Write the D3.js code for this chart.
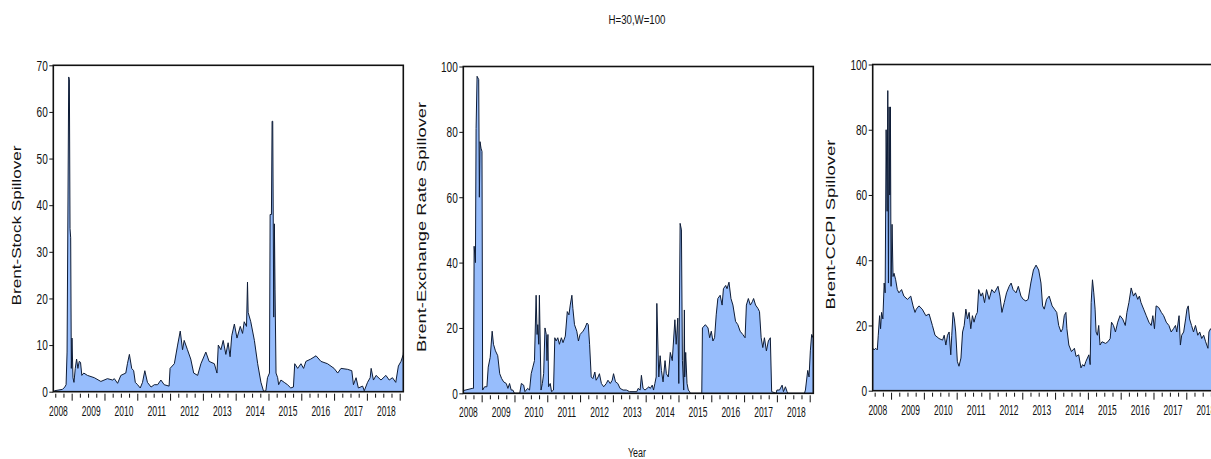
<!DOCTYPE html>
<html>
<head>
<meta charset="utf-8">
<script src="https://cdn.jsdelivr.net/npm/d3@7"></script>
<style>
  html, body { margin: 0; padding: 0; background: #fff; }
  svg { display: block; }
  text { font-family: "Liberation Sans", Arial, sans-serif; fill: #111; }
</style>
</head>
<body>
<script>
// time is decimal year, value is spillover index
const stockSpill = [
  [2007.89,0.2],[2008.14,0.5],[2008.21,1.0],[2008.25,1.5],[2008.28,8.5],[2008.33,67.5],[2008.35,67],[2008.37,35],
  [2008.39,33],[2008.41,5],[2008.43,11.5],[2008.46,3],[2008.49,2],[2008.53,5],[2008.57,7],[2008.61,5],[2008.65,6.5],
  [2008.69,6.3],[2008.73,3.5],[2008.79,4],[2008.90,3.5],[2009.11,3],[2009.31,2.2],[2009.51,2.8],[2009.67,2.5],
  [2009.72,2.8],[2009.82,1.8],[2009.92,3.5],[2010.07,4],[2010.12,6],[2010.18,8],[2010.25,5],[2010.31,4.5],[2010.36,2],
  [2010.43,1.5],[2010.51,0.8],[2010.58,2],[2010.65,4.5],[2010.73,2],[2010.84,1],[2010.94,1.5],[2011.04,1.5],
  [2011.14,2.5],[2011.24,1.5],[2011.39,1.2],[2011.42,5],[2011.55,6],[2011.65,10],[2011.73,13],[2011.80,9],[2011.85,11],
  [2011.95,9],[2012.05,7],[2012.14,4],[2012.26,3.5],[2012.36,6],[2012.51,8.5],[2012.61,6.5],[2012.77,6],[2012.85,4],
  [2012.89,10],[2012.97,9],[2013.04,11],[2013.12,8],[2013.19,10.5],[2013.25,7.5],[2013.30,12],[2013.38,14.5],
  [2013.46,11.5],[2013.56,14],[2013.63,12.5],[2013.68,15],[2013.75,14],[2013.78,23.5],[2013.80,17],[2013.88,15],
  [2013.99,11],[2014.09,6],[2014.19,2],[2014.27,0.1],[2014.34,0.2],[2014.39,3],[2014.45,4],[2014.47,38],[2014.51,38],
  [2014.53,58],[2014.55,58],[2014.58,16],[2014.60,36],[2014.62,22],[2014.65,4],[2014.70,3],[2014.73,1.5],[2014.80,2.5],
  [2014.90,2],[2015.00,1.5],[2015.10,0.8],[2015.18,1],[2015.22,6],[2015.31,5],[2015.41,6],[2015.49,5],[2015.56,6.5],
  [2015.71,7],[2015.87,7.7],[2016.02,6.5],[2016.22,6],[2016.42,5],[2016.53,4],[2016.63,5],[2016.83,4.8],[2016.96,4.5],
  [2017.01,1.5],[2017.09,3],[2017.16,0.8],[2017.29,1.2],[2017.34,0.2],[2017.44,2],[2017.52,3],[2017.55,5],[2017.62,2.5],
  [2017.70,3.5],[2017.85,2.5],[2018.00,3.5],[2018.10,2.5],[2018.20,3],[2018.30,2],[2018.38,5.5],[2018.46,6.5],
  [2018.53,8],[2018.56,11]
]

const fxSpill = [
  [2007.85,0.8],[2008.13,1.5],[2008.17,1.5],[2008.19,45],[2008.23,40],[2008.25,81],[2008.28,97],[2008.33,96],[2008.35,60],
  [2008.37,77],[2008.40,75],[2008.43,74],[2008.45,1],[2008.51,2],[2008.58,2],[2008.62,8],[2008.68,11],[2008.74,19],
  [2008.78,15],[2008.84,13],[2008.91,11.5],[2008.97,6],[2009.03,4.5],[2009.09,3.5],[2009.17,3],[2009.22,1.5],[2009.27,3],
  [2009.32,1],[2009.37,1],[2009.42,0],[2009.58,0],[2009.63,3],[2009.70,2.5],[2009.74,0.5],[2009.82,1.5],[2009.88,1],
  [2009.93,6],[2009.98,8],[2010.03,10],[2010.08,30],[2010.11,18],[2010.13,21],[2010.16,15],[2010.18,30],[2010.23,1],
  [2010.27,3],[2010.31,6],[2010.35,20],[2010.39,18],[2010.41,10],[2010.44,18],[2010.46,2],[2010.51,3],[2010.55,0.5],
  [2010.61,1],[2010.65,17],[2010.69,16],[2010.74,17],[2010.79,15],[2010.85,17],[2010.90,15.5],[2010.97,17.5],[2011.03,25],
  [2011.08,24],[2011.12,27],[2011.17,30],[2011.20,26],[2011.25,21],[2011.32,19],[2011.37,16],[2011.42,18],[2011.51,19],
  [2011.57,20],[2011.63,21.5],[2011.67,21],[2011.71,15],[2011.76,5],[2011.81,4.5],[2011.87,6.5],[2011.91,4],[2011.97,5],
  [2012.01,6],[2012.07,3],[2012.14,2],[2012.22,3],[2012.27,4],[2012.34,3],[2012.40,4],[2012.44,6],[2012.50,3.5],
  [2012.57,3],[2012.64,1.5],[2012.73,1],[2012.83,1],[2012.93,0.5],[2013.15,0.5],[2013.19,1.5],[2013.25,1],[2013.29,5.5],
  [2013.34,1.5],[2013.40,1],[2013.46,1.5],[2013.52,2],[2013.56,1.5],[2013.62,2.5],[2013.66,1],[2013.70,3],[2013.74,5],
  [2013.76,27.5],[2013.80,12],[2013.82,5],[2013.86,11.5],[2013.90,7],[2013.95,3.5],[2014.01,10],[2014.05,6],[2014.11,5],
  [2014.17,12.5],[2014.23,10],[2014.31,22.5],[2014.35,15],[2014.40,23],[2014.43,3],[2014.47,52],[2014.51,50],[2014.54,10],
  [2014.58,1],[2014.60,25.5],[2014.61,5],[2014.64,12.5],[2014.68,3],[2014.72,1],[2014.76,0.5],[2014.78,0],[2015.13,0],
  [2015.15,20],[2015.24,21],[2015.32,20],[2015.37,17],[2015.42,19],[2015.47,16],[2015.52,17],[2015.57,24],[2015.62,29],
  [2015.69,30],[2015.75,27],[2015.79,32],[2015.86,33],[2015.90,32],[2015.96,34],[2016.02,29],[2016.08,27],[2016.16,22],
  [2016.23,21],[2016.30,19],[2016.38,18],[2016.45,17],[2016.49,27],[2016.55,29],[2016.61,27],[2016.67,28],[2016.71,29],
  [2016.77,27],[2016.84,26],[2016.89,25],[2016.94,17],[2016.99,14],[2017.04,17],[2017.10,13],[2017.16,16],[2017.22,17],
  [2017.26,0.5],[2017.40,0],[2017.42,1],[2017.50,1],[2017.58,2.5],[2017.62,0.5],[2017.68,2],[2017.73,0.5],[2017.76,0],
  [2018.26,0],[2018.29,1],[2018.36,7],[2018.40,5],[2018.44,13],[2018.48,18],[2018.52,17]
]

const ccpiSpill = [
  [2007.83,13.5],[2007.90,12.5],[2007.95,13],[2008.00,12.5],[2008.03,17],[2008.07,23],[2008.10,19],[2008.13,24],
  [2008.17,22],[2008.21,33],[2008.24,30],[2008.27,80],[2008.30,55],[2008.32,92],[2008.34,33],[2008.36,87],[2008.38,60],
  [2008.40,87],[2008.42,32],[2008.45,51],[2008.48,35],[2008.51,36],[2008.56,34],[2008.61,31],[2008.66,30],[2008.74,31],
  [2008.81,29],[2008.92,28],[2009.02,29],[2009.09,26],[2009.15,24],[2009.19,25],[2009.27,26],[2009.37,25],[2009.48,23],
  [2009.58,23.5],[2009.68,20],[2009.76,17],[2009.88,16],[2009.99,15.5],[2010.04,17],[2010.09,14],[2010.14,17],[2010.19,18],
  [2010.24,11],[2010.27,17],[2010.31,24],[2010.35,22],[2010.39,18],[2010.44,9],[2010.49,7.5],[2010.55,10],[2010.60,18],
  [2010.65,20],[2010.70,25],[2010.75,22],[2010.80,24],[2010.85,19],[2010.90,23],[2010.95,21],[2011.00,23],[2011.05,24],
  [2011.09,31],[2011.16,29],[2011.21,30],[2011.27,27],[2011.33,31],[2011.41,28],[2011.49,31],[2011.57,30],[2011.68,32],
  [2011.74,29],[2011.80,24],[2011.87,27],[2011.94,30],[2012.02,32],[2012.08,33],[2012.14,31],[2012.23,30],[2012.30,32],
  [2012.38,29],[2012.45,28],[2012.53,27.5],[2012.60,28],[2012.68,33],[2012.76,37],[2012.84,38.5],[2012.92,37],[2012.99,33],
  [2013.04,26],[2013.09,25],[2013.16,28],[2013.24,29],[2013.33,26],[2013.40,25],[2013.47,24],[2013.53,20],[2013.60,18],
  [2013.65,19],[2013.70,23],[2013.75,24],[2013.78,19],[2013.84,14],[2013.92,12],[2014.01,13],[2014.06,10.5],[2014.14,11],
  [2014.21,7],[2014.26,8],[2014.31,7.5],[2014.36,9],[2014.45,11],[2014.49,8],[2014.52,27],[2014.56,34],[2014.60,30],
  [2014.64,25],[2014.67,18],[2014.71,17],[2014.75,20],[2014.79,14],[2014.85,15],[2014.96,14.5],[2015.03,15],[2015.10,16],
  [2015.14,21],[2015.20,20],[2015.26,18],[2015.33,21],[2015.40,23],[2015.48,22],[2015.56,20],[2015.61,24],[2015.67,27],
  [2015.74,31.5],[2015.81,29],[2015.87,30],[2015.94,28],[2015.99,29],[2016.04,27],[2016.12,25],[2016.20,23],[2016.28,21],
  [2016.35,20],[2016.40,23],[2016.45,19],[2016.50,26],[2016.58,25.5],[2016.66,24],[2016.73,23],[2016.81,21],[2016.89,20],
  [2016.96,18],[2017.03,19],[2017.09,20],[2017.13,18],[2017.20,23],[2017.24,14],[2017.28,17],[2017.34,18],[2017.40,22],
  [2017.44,25],[2017.48,26],[2017.52,22],[2017.58,20],[2017.64,18],[2017.70,20],[2017.77,17],[2017.83,18],[2017.89,16],
  [2017.95,17],[2018.01,15],[2018.08,13],[2018.11,18],[2018.16,19],[2018.30,17],[2018.50,18]
]

const series = [stockSpill, fxSpill, ccpiSpill]
const panelNames = ["Brent-Stock Spillover", "Brent-Exchange Rate Spillover", "Brent-CCPI Spillover"]
const yTickSets = [[0, 10, 20, 30, 40, 50, 60, 70], [0, 20, 40, 60, 80, 100], [0, 20, 40, 60, 80, 100]]
const yearLabels = [2008, 2009, 2010, 2011, 2012, 2013, 2014, 2015, 2016, 2017, 2018]
const timeSpan = [2007.86, 2018.53]
const chartTitle = "H=30,W=100"
const xTitle = "Year"

const width = 1211
const height = 459

const svg = d3.select('body').append('svg')
  .attr("width", width)
  .attr("height", height)
  .attr("viewBox", `0 0 ${width} ${height}`)

const fillColor = "#97bdfc"
const lineColor = "#0e1c36"
const fontSize = 15

// frames
const frames = [
  {left: 53.3, top: 65.3, bottom: 391.7, titleX: 16, titleLen: 160},
  {left: 463.3, top: 66.5, bottom: 393.3, titleX: 421, titleLen: 250},
  {left: 872.7, top: 64.5, bottom: 390.7, titleX: 830.5, titleLen: 170},
]
const frameW = 350

// narrow text: squeeze each label to its measured width
function squeeze(sel, perChar) {
  sel.each(function() {
    const t = d3.select(this)
    const n = t.text().length
    t.attr("textLength", n * perChar).attr("lengthAdjust", "spacingAndGlyphs")
  })
}

function panel(i) {
  const f = frames[i]
  const rows = series[i]
  const yTicks = yTickSets[i]

  const x = d3.scaleLinear()
    .domain(timeSpan)
    .range([f.left, f.left + frameW])

  const y = d3.scaleLinear()
    .domain([0, d3.max(yTicks)])
    .range([f.bottom, f.top])

  const g = svg.append("g")

  g.append("clipPath").attr("id", `clip${i}`)
    .append("rect")
    .attr("x", f.left).attr("y", f.top)
    .attr("width", frameW).attr("height", f.bottom - f.top)

  const area = d3.area()
    .x(d => x(d[0]))
    .y0(y(0))
    .y1(d => y(d[1]))

  const line = d3.line()
    .x(d => x(d[0]))
    .y(d => y(d[1]))

  const plot = g.append("g").attr("clip-path", `url(#clip${i})`)

  plot.append("path")
    .datum(rows)
    .attr("d", area)
    .attr("fill", fillColor)

  plot.append("path")
    .datum(rows)
    .attr("d", line)
    .attr("fill", "none")
    .attr("stroke", lineColor)
    .attr("stroke-width", 1)
    .attr("stroke-linejoin", "round")

  g.append("rect")
    .attr("x", f.left).attr("y", f.top)
    .attr("width", frameW).attr("height", f.bottom - f.top)
    .attr("fill", "none")
    .attr("stroke", "#111")
    .attr("stroke-width", 1.6)

  // y axis
  g.append("g")
    .attr("transform", `translate(${f.left},0)`)
    .call(d3.axisLeft(y).tickValues(yTicks).tickSize(4).tickPadding(1.5))
    .call(a => a.select(".domain").remove())
    .call(a => a.selectAll("line").attr("stroke", "#111"))
    .call(a => a.selectAll("text")
      .attr("font-size", fontSize)
      .attr("font-family", null)
      .call(squeeze, 5.6))

  // x axis: quarter ticks, longer tick once a year
  const firstMajor = yearLabels[0] + 0.42
  const minor = d3.range(-2, 44).map(k => firstMajor + k * 0.25)
    .filter(v => v > timeSpan[0] && v < timeSpan[1])

  g.append("g")
    .attr("transform", `translate(0,${f.bottom + 2})`)
    .call(d3.axisBottom(x).tickValues(minor).tickFormat("")
      .tickSize(0))
    .call(a => a.select(".domain").remove())
    .call(a => a.selectAll(".tick line")
      .attr("y2", (d) => Math.abs(((d - firstMajor) / 0.25) % 4) < 0.01 ? 7 : 4)
      .attr("stroke", "#111"))

  g.append("g")
    .attr("transform", `translate(0,${f.bottom + 2})`)
    .call(d3.axisBottom(x).tickValues(yearLabels).tickFormat(d3.format("d"))
      .tickSize(0).tickPadding(11.5))
    .call(a => a.select(".domain").remove())
    .call(a => a.selectAll("text")
      .attr("font-size", fontSize)
      .attr("font-family", null)
      .call(squeeze, 4.7))

  g.append("text")
    .attr("transform", `translate(${f.titleX},${(f.top + f.bottom) / 2 - 3}) rotate(-90)`)
    .attr("text-anchor", "middle")
    .attr("dy", "0.36em")
    .attr("font-size", 12.5)
    .attr("textLength", f.titleLen)
    .attr("lengthAdjust", "spacingAndGlyphs")
    .text(panelNames[i])
}

panel(0)
panel(1)
panel(2)

svg.append("text")
  .attr("x", 637).attr("y", 24)
  .attr("text-anchor", "middle")
  .attr("font-size", 12)
  .attr("textLength", 57)
  .attr("lengthAdjust", "spacingAndGlyphs")
  .text(chartTitle)

svg.append("text")
  .attr("x", 637).attr("y", 457)
  .attr("text-anchor", "middle")
  .attr("font-size", 12)
  .attr("textLength", 18)
  .attr("lengthAdjust", "spacingAndGlyphs")
  .text(xTitle)
</script>
</body>
</html>
